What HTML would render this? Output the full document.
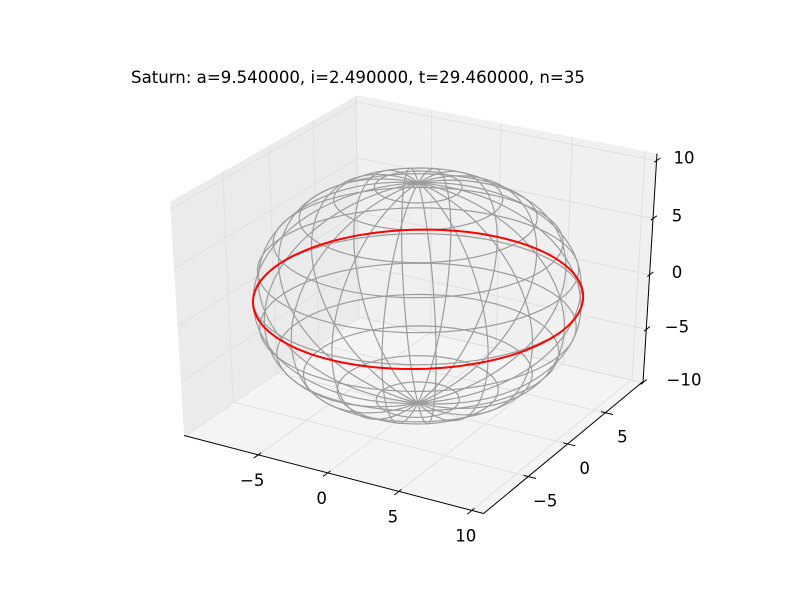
<!DOCTYPE html>
<html><head><meta charset="utf-8"><style>
html,body{margin:0;padding:0;background:#fff}
svg text{font-family:"DejaVu Sans","Liberation Sans",sans-serif;font-size:16.6px;fill:#000}
</style></head><body>
<svg id="chart" width="800" height="600" viewBox="0 0 800 600">
<text x="358" y="83" text-anchor="middle">Saturn: a=9.540000, i=2.490000, t=29.460000, n=35</text>
<g id="panes"></g><g id="grid"></g><g id="sphere"></g><g id="orbit"></g><g id="axes"></g>
</svg>
<script>
const xTicks=[-5,0,5,10];
const yTicks=[-5,0,5];
const zTicks=[-10,-5,0,5,10];
const semiMajor=9.54;
const inclinationDeg=2.49;
const sphereRadius=9.54;
const meridianCount=20;
const latitudeCount=13;
const lim=10;
const NS='http://www.w3.org/2000/svg';
function P(x,y,z){const d=0.433*x-0.75*y+0.5*z;const w=1/(1-d/170);
 return [418+w*(x*14.97+y*8.65+z*0.025), 296+w*(x*3.39-y*5.96-z*11.53)];}
function sx(t){return -0.15+0.94*t;}
function sy(t){return 0.1+0.97*t;}
function sz(t){return -0.35+0.975*t;}
function mk(tag,attrs,parent){const e=document.createElementNS(NS,tag);for(const k in attrs)e.setAttribute(k,attrs[k]);parent.appendChild(e);return e;}
function poly(pts){return pts.map(p=>p[0].toFixed(1)+','+p[1].toFixed(1)).join(' ');}
function line3(a,b,n){const pts=[];for(let k=0;k<=n;k++){const t=k/n;pts.push(P(a[0]+(b[0]-a[0])*t,a[1]+(b[1]-a[1])*t,a[2]+(b[2]-a[2])*t));}return pts;}
const panes=document.getElementById('panes'),grid=document.getElementById('grid'),sph=document.getElementById('sphere'),orb=document.getElementById('orbit'),ax=document.getElementById('axes');
let e;
e=mk('polygon',{points:poly([P(-lim,-lim,-lim),P(-lim,lim,-lim),P(-lim,lim,lim),P(-lim,-lim,lim)]),fill:'#ebebeb'},panes);

e=mk('polygon',{points:poly([P(-lim,lim,-lim),P(lim,lim,-lim),P(lim,lim,lim),P(-lim,lim,lim)]),fill:'#f0f0f0'},panes);

e=mk('polygon',{points:poly([P(-lim,-lim,-lim),P(lim,-lim,-lim),P(lim,lim,-lim),P(-lim,lim,-lim)]),fill:'#f4f4f4'},panes);

const gs={stroke:'#e0e0e0','stroke-width':1,fill:'none'};
function gl(a,b){return mk('polyline',Object.assign({points:poly(line3(a,b,10))},gs),grid);}
xTicks.forEach(t=>{const v=sx(t);e=gl([v,-lim,-lim],[v,lim,-lim]);
 e=gl([v,lim,-lim],[v,lim,lim]);});
yTicks.concat([10]).forEach(t=>{const v=sy(t);e=gl([-lim,v,-lim],[lim,v,-lim]);
 e=gl([-lim,v,-lim],[-lim,v,lim]);});
zTicks.forEach(t=>{const v=sz(t);e=gl([-lim,-lim,v],[-lim,lim,v]);
 e=gl([-lim,lim,v],[lim,lim,v]);});
for(let i=0;i<meridianCount;i++){const u=2*Math.PI*i/meridianCount;const pts=[];
 for(let k=0;k<=40;k++){const v=Math.PI*k/40;pts.push(P(sphereRadius*Math.cos(u)*Math.sin(v),sphereRadius*Math.sin(u)*Math.sin(v),sphereRadius*Math.cos(v)));}
 e=mk('polyline',{points:poly(pts),fill:'none',stroke:'#9c9c9c','stroke-width':1.2},sph);
 }
for(let j=1;j<latitudeCount-1;j++){const v=Math.PI*j/(latitudeCount-1);const pts=[];
 for(let k=0;k<=72;k++){const u=2*Math.PI*k/72;pts.push(P(sphereRadius*Math.cos(u)*Math.sin(v),sphereRadius*Math.sin(u)*Math.sin(v),sphereRadius*Math.cos(v)));}
 e=mk('polyline',{points:poly(pts),fill:'none',stroke:'#9c9c9c','stroke-width':1.2},sph);
 }
{const inc=inclinationDeg*Math.PI/180;const pts=[];
 for(let k=0;k<=120;k++){const t=2*Math.PI*k/120;const x=semiMajor*Math.cos(t),y0=semiMajor*Math.sin(t);pts.push(P(x,y0*Math.cos(inc),y0*Math.sin(inc)));}
 e=mk('polyline',{points:poly(pts),fill:'none',stroke:'#ff0000','stroke-width':2},orb);
 }
const as={stroke:'#000','stroke-width':1,fill:'none'};
e=mk('polyline',Object.assign({points:poly([P(-lim,-lim,-lim),P(lim,-lim,-lim)])},as),ax);
e=mk('polyline',Object.assign({points:poly([P(lim,-lim,-lim),P(lim,lim,-lim)])},as),ax);
e=mk('polyline',Object.assign({points:poly([P(lim,lim,-lim),P(lim,lim,lim)])},as),ax);
function lab(t){return t<0?'\u2212'+(-t):''+t;}
xTicks.forEach(t=>{const v=sx(t);const a=P(v,-lim+0.3,-lim),b=P(v,-lim-0.5,-lim);
 e=mk('polyline',Object.assign({points:poly([a,b])},as),ax);
 const p=P(v,-lim,-lim);e=mk('text',{x:p[0]-6,y:p[1]+31,'text-anchor':'middle'},ax);e.textContent=lab(t);
 });
yTicks.forEach(t=>{const v=sy(t);const a=P(lim-0.3,v,-lim),b=P(lim+0.5,v,-lim);
 e=mk('polyline',Object.assign({points:poly([a,b])},as),ax);
 const p=P(lim,v,-lim);e=mk('text',{x:p[0]+17,y:p[1]+30,'text-anchor':'middle'},ax);e.textContent=lab(t);
 });
zTicks.forEach(t=>{const v=sz(t);const a=P(lim,lim-0.3,v),b=P(lim,lim+0.5,v);
 e=mk('polyline',Object.assign({points:poly([a,b])},as),ax);
 const p=P(lim,lim,v);e=mk('text',{x:Math.abs(t)>=10?684:677,y:p[1]+3,'text-anchor':'middle'},ax);e.textContent=lab(t);
 });
</script>
</body></html>
